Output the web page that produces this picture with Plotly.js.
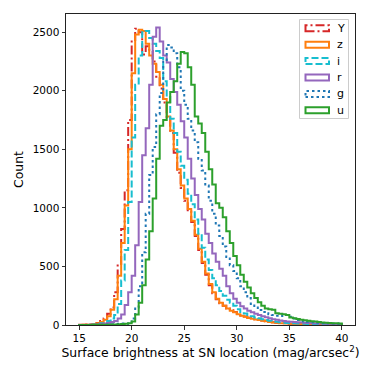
<!DOCTYPE html>
<html>
<head>
<meta charset="utf-8">
<script src="https://cdn.plot.ly/plotly-3.0.1.min.js"></script>
<style>
  html, body { margin: 0; padding: 0; background: #fff; }
  #plot { width: 374px; height: 374px; }
</style>
</head>
<body>
<div id="plot"></div>
<script>
// histogram bins: 75 equal bins between 15 and 40 mag/arcsec^2
var binLo = 15, binHi = 40;

var bands = ["Y", "z", "i", "r", "g", "u"];
var colors = ["#d62728", "#ff7f0e", "#17becf", "#9467bd", "#1f77b4", "#2ca02c"];
var dashes = ["9px,3px,2px,3px", "solid", "7px,3px", "solid", "2.5px,3px", "solid"];

// counts per bin
var countsY = [2, 3, 4, 6, 10, 18, 35, 55, 95, 150, 280, 520, 820, 1150, 1750,
  2420, 2530, 2500, 2310, 2380, 2340, 2250, 2120, 2020, 1900, 1760, 1640, 1470, 1300, 1170,
  1060, 970, 880, 760, 640, 530, 430, 340, 270, 220, 185, 165, 140, 125, 110,
  95, 82, 72, 62, 56, 50, 44, 38, 33, 27, 23, 20, 17, 15, 13,
  11, 10, 9, 8, 8, 7, 7, 6, 6, 5, 5, 5, 4, 4, 4];
var countsZ = [1, 2, 3, 5, 8, 14, 25, 45, 75, 130, 220, 420, 700, 1020, 1500,
  2150, 2480, 2520, 2510, 2400, 2300, 2230, 2160, 2050, 1930, 1780, 1660, 1500, 1330, 1190,
  1080, 990, 890, 770, 650, 540, 440, 350, 280, 225, 190, 165, 140, 122, 108,
  92, 80, 70, 60, 53, 47, 42, 36, 31, 26, 22, 19, 16, 14, 12,
  11, 10, 9, 8, 7, 7, 6, 6, 5, 5, 5, 4, 4, 4, 3];
var countsI = [1, 1, 2, 3, 5, 8, 14, 22, 35, 55, 85, 180, 380, 640, 1050,
  1600, 2050, 2300, 2500, 2510, 2450, 2400, 2340, 2280, 2080, 1960, 1760, 1640, 1480, 1360,
  1240, 1120, 1030, 900, 780, 660, 560, 470, 400, 340, 290, 250, 215, 190, 165,
  135, 112, 98, 85, 75, 65, 57, 50, 43, 36, 31, 27, 23, 20, 18,
  16, 14, 12, 11, 10, 9, 8, 8, 7, 6, 6, 5, 5, 4, 4];
var countsR = [0, 1, 1, 2, 3, 5, 8, 12, 18, 25, 35, 55, 90, 170, 280,
  420, 680, 1050, 1450, 1680, 2050, 2460, 2540, 2420, 2300, 2240, 2100, 1990, 1880, 1740,
  1600, 1420, 1250, 1110, 990, 900, 780, 700, 610, 540, 480, 420, 330, 270, 225,
  190, 160, 140, 122, 108, 95, 85, 75, 66, 58, 50, 44, 38, 34, 30,
  27, 25, 23, 21, 19, 17, 15, 14, 13, 12, 11, 10, 9, 9, 8];
var countsG = [0, 0, 1, 1, 1, 2, 3, 4, 5, 6, 8, 10, 12, 10, 25,
  55, 150, 330, 620, 950, 1280, 1520, 1800, 1980, 2250, 2390, 2370, 2320, 2200, 2000,
  1880, 1760, 1660, 1560, 1420, 1320, 1190, 1060, 950, 850, 760, 670, 580, 510, 460,
  400, 330, 280, 230, 180, 150, 128, 112, 100, 92, 85, 80, 76, 80, 85,
  70, 55, 42, 35, 30, 27, 24, 22, 20, 18, 16, 14, 13, 12, 10];
var countsU = [1, 1, 1, 1, 2, 2, 2, 3, 3, 4, 5, 6, 8, 10, 15,
  30, 90, 190, 340, 560, 800, 1080, 1420, 1700, 1750, 1900, 1990, 2080, 2230, 2330,
  2320, 2200, 2050, 1780, 1720, 1640, 1480, 1330, 1200, 1040, 1000, 920, 800, 700, 590,
  510, 430, 370, 320, 270, 230, 195, 165, 140, 135, 130, 100, 95, 92, 85,
  65, 58, 52, 45, 40, 36, 32, 30, 25, 22, 20, 18, 16, 14, 12];

var allCounts = [countsY, countsZ, countsI, countsR, countsG, countsU];

var xTicks = [15, 20, 25, 30, 35, 40];
var yTicks = [0, 500, 1000, 1500, 2000, 2500];

// step outline like matplotlib histtype='step'
function stepLine(counts) {
  var w = (binHi - binLo) / counts.length;
  var xs = [binLo], ys = [0];
  for (var k = 0; k < counts.length; k++) {
    xs.push(binLo + k * w);
    ys.push(counts[k]);
  }
  xs.push(binHi);
  ys.push(0);
  return {x: xs, y: ys};
}

var data = [];
for (var b = 0; b < bands.length; b++) {
  var s = stepLine(allCounts[b]);
  data.push({
    type: "scatter",
    mode: "lines",
    x: s.x,
    y: s.y,
    name: bands[b],
    line: {shape: "hv", color: colors[b], width: 2, dash: dashes[b]},
    showlegend: false,
    hoverinfo: "skip"
  });
}

// plot area in pixels
var L = 66, R = 355, T = 14, B = 325;
function px(x) { return (x - L) / (R - L); }
function py(y) { return (B - y) / (B - T); }

// hand-made legend (open rectangles like matplotlib patches)
var shapes = [{
  type: "rect", xref: "paper", yref: "paper", layer: "above",
  x0: px(299.5), x1: px(348.5), y0: py(118.5), y1: py(19.5),
  line: {color: "#cccccc", width: 1}, fillcolor: "rgba(255,255,255,0.8)"
}];
var annotations = [];
for (var j = 0; j < bands.length; j++) {
  var cy = 28.3 + j * 16.4;
  shapes.push({
    type: "rect", xref: "paper", yref: "paper", layer: "above",
    x0: px(305.5), x1: px(329), y0: py(cy + 3), y1: py(cy - 3),
    line: {color: colors[j], width: 2, dash: dashes[j]},
    fillcolor: "rgba(0,0,0,0)"
  });
  annotations.push({
    xref: "paper", yref: "paper", x: px(335), y: py(cy),
    xanchor: "left", yanchor: "middle", showarrow: false,
    text: bands[j], font: {size: 11, color: "#000"}
  });
}

var layout = {
  width: 374, height: 374,
  margin: {l: L, r: 374 - R, t: T, b: 374 - B},
  paper_bgcolor: "#fff", plot_bgcolor: "#fff",
  font: {family: "DejaVu Sans", color: "#000", size: 10.5},
  showlegend: false,
  xaxis: {
    range: [13.75, 41.25], tickvals: xTicks, ticktext: xTicks.map(String),
    ticks: "outside", ticklen: 3.5, tickwidth: 0.8, tickcolor: "#000",
    showline: true, mirror: true, linecolor: "#222", linewidth: 1,
    showgrid: false, zeroline: false, automargin: false,
    tickfont: {size: 10.5},
    title: {text: "Surface brightness at SN location (mag/arcsec<sup>2</sup>)", font: {size: 12.4}, standoff: 4}
  },
  yaxis: {
    range: [0, 2655], tickvals: yTicks, ticktext: yTicks.map(String),
    ticks: "outside", ticklen: 3.5, tickwidth: 0.8, tickcolor: "#000",
    showline: true, mirror: true, linecolor: "#222", linewidth: 1,
    showgrid: false, zeroline: false, automargin: false,
    tickfont: {size: 10.5},
    title: {text: "Count", font: {size: 12.4}, standoff: 6}
  },
  shapes: shapes,
  annotations: annotations
};

Plotly.newPlot("plot", data, layout, {staticPlot: true, displayModeBar: false});
</script>
</body>
</html>
